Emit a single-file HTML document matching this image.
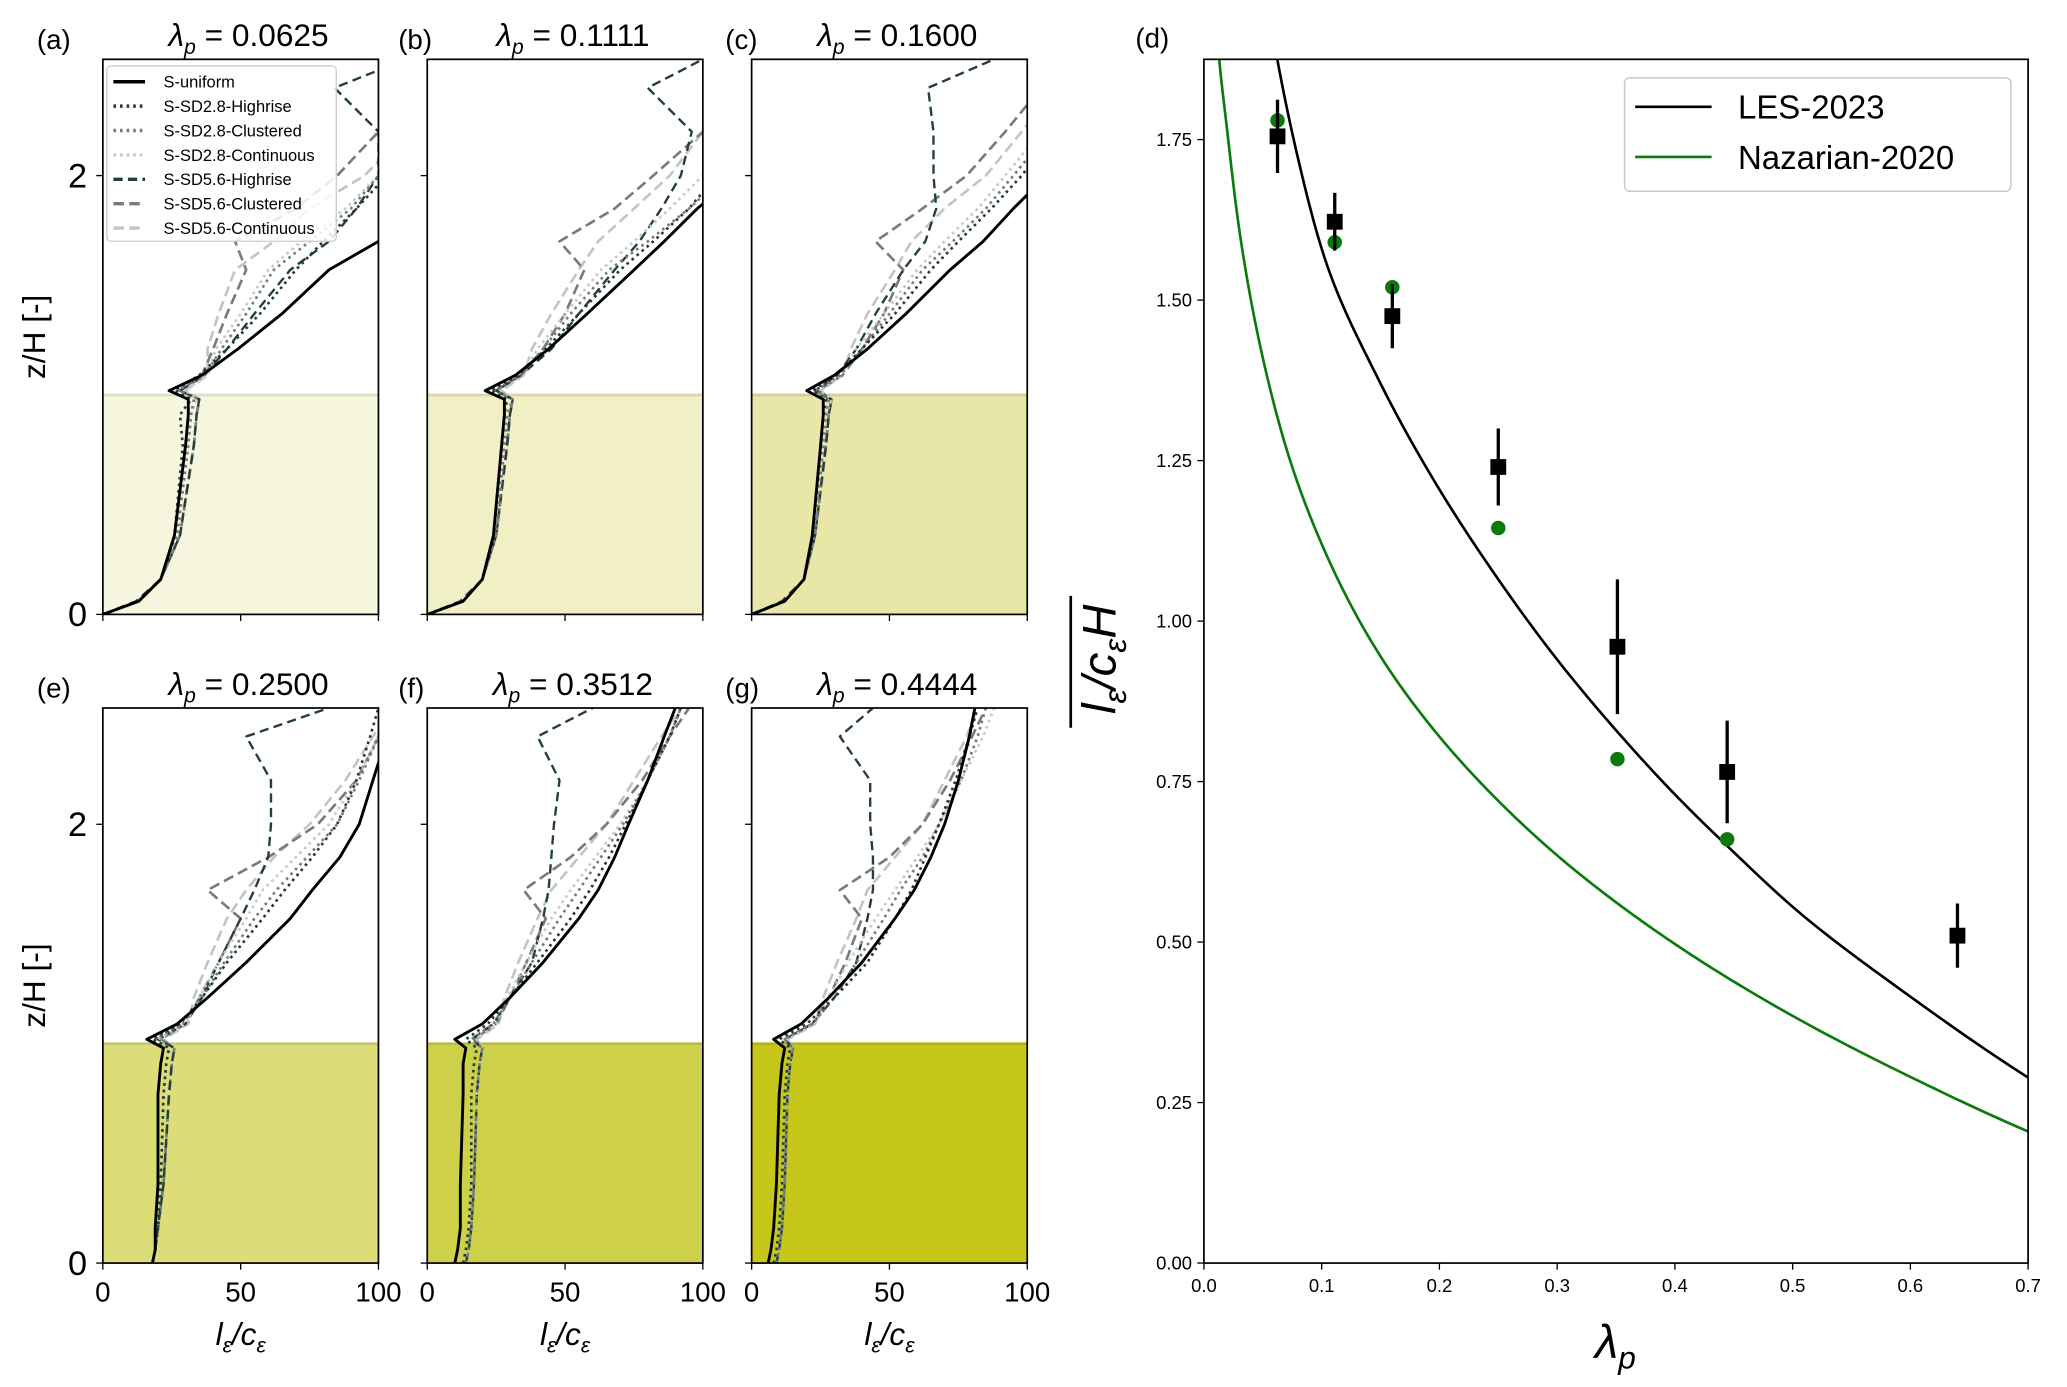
<!DOCTYPE html>
<html><head><meta charset="utf-8">
<style>
html,body{margin:0;padding:0;background:#fff;}
svg{display:block;font-family:"Liberation Sans","DejaVu Sans",sans-serif;}
</style></head>
<body>
<svg id="fig" width="2067" height="1387" viewBox="0 0 1567.5 1052" preserveAspectRatio="none" xmlns="http://www.w3.org/2000/svg">
<defs>
<clipPath id="cpD"><rect x="913" y="45" width="625" height="913"/></clipPath>
</defs>
</svg>
<script>
const NS='http://www.w3.org/2000/svg';
const svg=document.getElementById('fig');
function mk(tag,attrs,parent,text){const e=document.createElementNS(NS,tag);for(const k in attrs)e.setAttribute(k,attrs[k]);if(text!==undefined)e.textContent=text;(parent||svg).appendChild(e);return e;}

// ---------- profile data ----------
const zGrid=[0,0.06,0.16,0.36,0.77,0.91,0.98,1.02,1.09,1.21,1.37,1.57,1.7,1.85,2.0,2.2,2.4,2.53];
const seriesNames=['S-uniform','S-SD2.8-Highrise','S-SD2.8-Clustered','S-SD2.8-Continuous','S-SD5.6-Highrise','S-SD5.6-Clustered','S-SD5.6-Continuous'];
const panelTitles=['0.0625','0.1111','0.1600','0.2500','0.3512','0.4444'];
const panelLetters=['(a)','(b)','(c)','(e)','(f)','(g)'];
const xTicks=[0,50,100];
const zTicks=[0,2];
const profA=[
[0,13,21,26,30,31,31,24,36,49,65,82,100,118,135,155,175,190],
[0,13,21,26,29,28,32,26,35,45,57,70,80,92,103,118,130,140],
[0,13,21,27,31,32,33,27,37,43,52,62,75,90,100,115,128,140],
[0,13,21,27,31,32,34,30,38,41,50,60,72,88,100,115,128,140],
[0,12,21,28,33,34,35,28,37,45,55,68,82,92,100,100,84,110],
[0,13,21,28,33,34,35,28,36,40,45,52,48,70,85,100,115,125],
[0,13,21,28,33,34,35,30,38,38,42,48,62,75,95,110,122,135]];
const profB=[
[0,13,20,24,27,28,28,21,32,44,58,75,86,98,112,128,145,155],
[0,13,20,24,27,28,29,23,33,43,55,70,82,95,105,120,135,145],
[0,13,20,25,28,29,31,24,34,42,52,66,80,95,108,122,138,150],
[0,13,20,25,28,29,31,27,35,40,50,63,75,88,100,115,130,140],
[0,12,20,25,29,30,31,25,34,45,55,68,77,85,92,96,80,100],
[0,13,20,25,29,30,31,25,34,42,50,57,48,68,82,100,115,125],
[0,13,20,25,29,30,31,27,35,38,45,55,62,75,88,100,112,120]];
const profC=[
[0,12,19,22,25,26,26,20,30,42,56,72,84,95,107,122,138,148],
[0,12,19,22,25,26,27,22,31,40,52,65,75,87,98,110,125,135],
[0,12,19,23,26,27,28,23,32,40,50,62,73,85,95,108,120,130],
[0,12,19,23,26,27,29,25,33,38,48,60,70,82,92,105,118,128],
[0,11,19,23,27,28,29,23,31,38,45,55,63,67,66,66,64,88],
[0,12,19,23,27,28,29,24,33,40,48,55,45,62,78,92,105,115],
[0,12,19,23,27,28,29,25,33,36,42,52,58,70,85,98,110,120]];
const profE=[
[18,19,19,20,20,21,22,16,27,38,52,68,76,86,93,98,103,107],
[18,19,20,21,22,23,24,18,28,36,45,58,66,76,85,92,97,100],
[18,19,20,21,22,23,24,19,29,36,44,55,63,74,85,93,100,105],
[18,19,20,21,22,23,24,20,30,35,42,52,58,70,82,92,100,105],
[18,19,20,22,24,25,26,20,30,36,42,50,55,60,61,61,52,82],
[18,19,20,22,24,25,26,21,30,35,42,50,38,60,78,92,100,105],
[18,19,20,22,24,25,26,22,31,33,38,45,52,62,75,88,98,105]];
const profF=[
[10,11,12,12,13,13,14,10,20,30,42,55,62,68,73,80,86,90],
[13,14,15,16,16,17,18,14,22,30,40,52,59,66,72,80,88,92],
[14,15,16,17,18,19,20,16,24,30,38,48,55,63,71,80,88,92],
[14,15,16,17,18,19,20,18,25,29,36,45,52,61,70,80,88,92],
[14,15,16,17,18,19,20,16,24,30,38,42,44,45,46,48,40,60],
[14,15,16,17,18,19,20,17,25,30,36,43,35,52,65,78,88,95],
[14,15,16,17,18,19,20,18,26,28,33,40,45,55,65,75,85,92]];
const profG=[
[6,7,8,9,10,11,12,8,18,28,40,52,59,65,70,75,79,81],
[8,9,10,11,12,13,14,10,20,30,42,52,58,63,68,74,79,82],
[9,10,11,12,13,14,15,12,22,30,38,48,54,62,68,76,82,85],
[9,10,11,12,13,14,15,13,23,28,35,45,52,60,68,76,84,88],
[9,10,11,12,13,14,15,12,22,30,38,42,44,44,43,43,32,44],
[9,10,11,12,13,14,15,12,22,28,34,40,32,50,62,72,80,85],
[9,10,11,12,13,14,15,13,23,26,31,38,42,52,62,70,78,82]];
const allProfiles=[profA,profB,profC,profE,profF,profG];
const canopyFills=['#f6f6de','#f1efc4','#e8e7a8','#dcdc79','#cfd049','#c6c71a'];

const styles=[
 {c:'#000',w:2.2,d:''},
 {c:'#1f3d36',w:2,d:'2,3'},
 {c:'#7a7a7a',w:2,d:'2,3'},
 {c:'#c8c8c8',w:2,d:'2,3'},
 {c:'#22403a',w:1.8,d:'7,4'},
 {c:'#7a7a7a',w:2,d:'8,4'},
 {c:'#c4c4c4',w:2,d:'8,4'}];
const boxes=[[78,45],[324,45],[570,45],[78,537],[324,537],[570,537]];
const letterOffsets=[50,22,20,50,22,20];
const PW=209,PH=421,ZMAX=2.53;

allProfiles.forEach((prof,pi)=>{
  const [bx,by]=boxes[pi];
  const sx=v=>bx+v/100*PW, sz=z=>by+PH-z/ZMAX*PH;
  const g=mk('g',{});
  
  
  const cp=mk('clipPath',{id:'cp'+pi},svg.querySelector('defs'));
  mk('rect',{x:bx,y:by,width:PW,height:PH},cp);
  const can=mk('rect',{x:sx(0),y:sz(1),width:PW,height:sz(0)-sz(1),fill:canopyFills[pi]},g);
  
  
  mk('line',{x1:bx,x2:bx+PW,y1:sz(1),y2:sz(1),stroke:canopyFills[pi],'stroke-width':2,filter:'brightness(0.9)'},g);
  const lg=mk('g',{'clip-path':'url(#cp'+pi+')'},g);
  for(let s=prof.length-1;s>=0;s--){
    const pts=prof[s].map((v,i)=>sx(v).toFixed(1)+','+sz(zGrid[i]).toFixed(1)).join(' ');
    const pl=mk('polyline',{points:pts,fill:'none',stroke:styles[s].c,'stroke-width':styles[s].w,'stroke-dasharray':styles[s].d,'stroke-linejoin':'round'},lg);
    
    
  }
  mk('rect',{x:bx,y:by,width:PW,height:PH,fill:'none',stroke:'#000','stroke-width':1.3},g);
  xTicks.forEach(t=>{
    mk('line',{x1:sx(t),x2:sx(t),y1:by+PH,y2:by+PH+5,stroke:'#000','stroke-width':1},g);
    if(pi>=3){const tl=mk('text',{x:sx(t),y:by+PH+29,'font-size':21,'text-anchor':'middle'},g,String(t));
      
      }
  });
  zTicks.forEach(t=>{
    mk('line',{x1:bx-5,x2:bx,y1:sz(t),y2:sz(t),stroke:'#000','stroke-width':1},g);
    if(pi===0||pi===3){const tl=mk('text',{x:bx-12,y:sz(t)+9,'font-size':26,'text-anchor':'end'},g,String(t));
      
      }
  });
  const lt=mk('text',{x:bx-letterOffsets[pi],y:by-8,'font-size':21},g,panelLetters[pi]);
  
  
  const tt=mk('text',{x:bx+PW/2+6,y:by-10,'font-size':24,'text-anchor':'middle'},g);
  
  
  mk('tspan',{'font-style':'italic'},tt,'λ');
  mk('tspan',{'font-style':'italic','font-size':16,dy:6},tt,'p');
  mk('tspan',{dy:-6},tt,' = '+panelTitles[pi]);
  if(pi>=3){
    const xl=mk('text',{x:bx+PW/2,y:by+PH+62,'font-size':24,'text-anchor':'middle','font-style':'italic'},g);
    
    
    mk('tspan',{},xl,'l');mk('tspan',{'font-size':16,dy:6},xl,'ε');mk('tspan',{dy:-6},xl,'/c');mk('tspan',{'font-size':16,dy:6},xl,'ε');
  }
  if(pi===0||pi===3){
    const yl=mk('text',{x:0,y:0,'font-size':24,'text-anchor':'middle',transform:`translate(${bx-44},${by+PH/2}) rotate(-90)`},g,'z/H [-]');
    
    
  }
});

(function(){
  const g=mk('g',{});
  
  
  mk('rect',{x:81,y:50,width:174,height:133,rx:3,fill:'#fff','fill-opacity':0.85,stroke:'#ccc','stroke-width':1},g);
  seriesNames.forEach((n,i)=>{
    const y=62+i*18.5;
    const e=mk('g',{},g);
    
    
    mk('line',{x1:86,x2:110,y1:y,y2:y,stroke:styles[i].c,'stroke-width':2.6,'stroke-dasharray':styles[i].d},e);
    mk('text',{x:124,y:y+4.5,'font-size':12.5},e,n);
  });
})();

// ---------- panel d data ----------
const lesLam=[0.062,0.08,0.1,0.15,0.2,0.25,0.3,0.35,0.4,0.45,0.5,0.6,0.7];
const lesVal=[1.878,1.72,1.58,1.37,1.205,1.065,0.94,0.83,0.73,0.64,0.555,0.415,0.289];
const nazLam=[0.013,0.02,0.03,0.05,0.075,0.1,0.15,0.2,0.25,0.3,0.35,0.4,0.5,0.6,0.7];
const nazVal=[1.875,1.76,1.61,1.41,1.24,1.12,0.945,0.82,0.72,0.635,0.562,0.497,0.385,0.29,0.205];
const sqLam=[0.0625,0.1111,0.16,0.25,0.3512,0.4444,0.64];
const sqVal=[1.755,1.622,1.475,1.24,0.96,0.765,0.51];
const sqErr=[0.057,0.045,0.05,0.06,0.105,0.08,0.05];
const grLam=[0.0625,0.1111,0.16,0.25,0.3512,0.4444];
const grVal=[1.78,1.59,1.52,1.145,0.785,0.66];
const dXTicks=[0,0.1,0.2,0.3,0.4,0.5,0.6,0.7];
const dYTicks=[0,0.25,0.5,0.75,1.0,1.25,1.5,1.75];

function monoPath(xs,ys,sx,sy){
  const X=xs.map(Math.log),n=X.length,h=[],dl=[],m=new Array(n);
  for(let i=0;i<n-1;i++){h[i]=X[i+1]-X[i];dl[i]=(ys[i+1]-ys[i])/h[i];}
  m[0]=dl[0];m[n-1]=dl[n-2];
  for(let i=1;i<n-1;i++){m[i]=(dl[i-1]*dl[i]<=0)?0:(h[i-1]*dl[i]+h[i]*dl[i-1])/(h[i-1]+h[i]);}
  let d='';
  for(let i=0;i<n-1;i++){
    for(let k=0;k<=20;k++){
      const t=k/20,t2=t*t,t3=t2*t;
      const y=(2*t3-3*t2+1)*ys[i]+(t3-2*t2+t)*h[i]*m[i]+(-2*t3+3*t2)*ys[i+1]+(t3-t2)*h[i]*m[i+1];
      const x=Math.exp(X[i]+t*h[i]);
      if(i>0&&k===0)continue;
      d+=(d?' L':'M')+sx(x).toFixed(2)+','+sy(y).toFixed(2);
    }
  }
  return d;
}

(function(){
  const L=913,R=1538,T=45,B=958,XMAX=0.7,YMAX=1.875;
  const sx=v=>L+v/XMAX*(R-L), sy=v=>B-v/YMAX*(B-T);
  const g=mk('g',{});
  
  
  const cg=mk('g',{'clip-path':'url(#cpD)'},g);
  const l1=mk('path',{d:monoPath(lesLam,lesVal,sx,sy),fill:'none',stroke:'#000','stroke-width':2,'stroke-linejoin':'round'},cg);
  
  
  const l2=mk('path',{d:monoPath(nazLam,nazVal,sx,sy),fill:'none',stroke:'#0a7a0a','stroke-width':2,'stroke-linejoin':'round'},cg);
  
  
  grLam.forEach((x,i)=>{
    const c=mk('circle',{cx:sx(x),cy:sy(grVal[i]),r:5.5,fill:'#0a7a0a'},g);
    
    
  });
  sqLam.forEach((x,i)=>{
    const e=mk('line',{x1:sx(x),x2:sx(x),y1:sy(sqVal[i]+sqErr[i]),y2:sy(sqVal[i]-sqErr[i]),stroke:'#000','stroke-width':2.5},g);
    
    
    const s=mk('rect',{x:sx(x)-6,y:sy(sqVal[i])-6,width:12,height:12,fill:'#000'},g);
    
    
  });
  mk('rect',{x:L,y:T,width:R-L,height:B-T,fill:'none',stroke:'#000','stroke-width':1.3},g);
  dXTicks.forEach(t=>{
    mk('line',{x1:sx(t),x2:sx(t),y1:B,y2:B+5,stroke:'#000'},g);
    const tl=mk('text',{x:sx(t),y:B+22,'font-size':14,'text-anchor':'middle'},g,t.toFixed(1));
    
    
  });
  dYTicks.forEach(t=>{
    mk('line',{x1:L-5,x2:L,y1:sy(t),y2:sy(t),stroke:'#000'},g);
    const tl=mk('text',{x:L-9,y:sy(t)+5,'font-size':14,'text-anchor':'end'},g,t.toFixed(2));
    
    
  });
  const dl=mk('text',{x:861,y:36,'font-size':21},g,'(d)');
  
  
  const xl=mk('text',{x:1225,y:1030,'font-size':36,'text-anchor':'middle','font-style':'italic'},g);
  
  
  mk('tspan',{},xl,'λ');mk('tspan',{'font-size':24,dy:8},xl,'p');
  const yl=mk('text',{x:0,y:0,'font-size':36,'text-anchor':'middle','font-style':'italic',transform:'translate(846,500) rotate(-90)'},g);
  
  
  mk('tspan',{},yl,'l');mk('tspan',{'font-size':24,dy:8},yl,'ε');mk('tspan',{dy:-8},yl,'/c');mk('tspan',{'font-size':24,dy:8},yl,'ε');mk('tspan',{dy:-8},yl,'H');
  mk('line',{x1:812,x2:812,y1:452,y2:552,stroke:'#000','stroke-width':2},g);
  const lg=mk('g',{},g);
  
  
  mk('rect',{x:1232,y:59,width:293,height:86,rx:4,fill:'#fff',stroke:'#ccc','stroke-width':1.2},lg);
  const e1=mk('g',{},lg);
  
  
  mk('line',{x1:1240,x2:1298,y1:81,y2:81,stroke:'#000','stroke-width':2},e1);
  mk('text',{x:1318,y:90,'font-size':25},e1,'LES-2023');
  const e2=mk('g',{},lg);
  
  
  mk('line',{x1:1240,x2:1298,y1:119,y2:119,stroke:'#0a7a0a','stroke-width':2},e2);
  mk('text',{x:1318,y:128,'font-size':25},e2,'Nazarian-2020');
})();
</script>
</body></html>
